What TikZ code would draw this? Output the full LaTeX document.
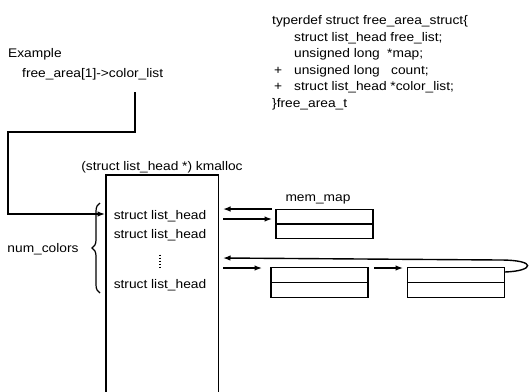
\documentclass[tikz,border=0pt]{standalone}
\usepackage{fontspec}
\setmainfont[FakeStretch=1.1]{Liberation Sans}
\usetikzlibrary{arrows.meta,decorations.pathreplacing}

\begin{document}
\begin{tikzpicture}[x=1pt,y=-1pt,
  font=\fontsize{12.5}{15}\selectfont,
  line/.style={line width=1.4pt},
  arr/.style={line, -{Latex[length=7.5pt,width=5.5pt]}},
  txt/.style={inner sep=0pt, anchor=base west},
  ctxt/.style={inner sep=0pt, anchor=base},
  cell/.style={draw, line width=1.3pt, minimum width=97pt, minimum height=29.5pt, inner sep=0pt},
]
\useasboundingbox (0,0) rectangle (529,391);

% struct definition
\node[txt] (d1) at (272,24.5) {typerdef struct free\_area\_struct\{};
\node[txt] (d2) at (294,41) {struct list\_head free\_list;};
\node[txt] (d3) at (294,57.5) {unsigned long};
\node[txt] (d3b) at (387,57.5) {*map;};
\node[txt] (p4) at (274,74) {+};
\node[txt] (d4) at (294,74) {unsigned long};
\node[txt] (d4b) at (391,74) {count;};
\node[txt] (p5) at (274,90.5) {+};
\node[txt] (d5) at (294,90.5) {struct list\_head *color\_list;};
\node[txt] (d6) at (272,107) {\}free\_area\_t};

% example
\node[txt] (ex) at (8,57.5) {Example};
\node[txt] (ex2) at (22,77.5) {free\_area[1]->color\_list};

% kmalloc'ed array
\node[ctxt] (kl) at (162,170) {(struct list\_head *) kmalloc};
\node[minimum width=112pt, minimum height=220pt, inner sep=0pt] (kb) at (162,285) {};
\draw[line] (kb.south west) -- (kb.north west) -- (kb.north east) -- (kb.south east);
\node[ctxt] (lh1) at (160,219) {struct list\_head};
\node[ctxt] (lh2) at (160,238.5) {struct list\_head};
\coordinate (vt) at (160,254.5);
\coordinate (vb) at (160,267);
\draw[line width=1.3pt, dash pattern=on 1.3pt off 1.8pt] (vt) -- (vb);
\node[ctxt] (lh3) at (160,288) {struct list\_head};

% brace and count
\draw[line width=1.2pt, decorate, decoration={brace, amplitude=8pt}] (100,293) -- (100,203);
\node[ctxt] (nc) at (43,252) {num\_colors};

% pointer into the array
\coordinate (c0) at (135,92);
\coordinate (c1) at (8,132);
\coordinate (kin) at (105,214);
\draw[arr] (c0) |- (c1) |- (kin);

% mem_map cell
\node[ctxt] (mml) at (318,201) {mem\_map};
\node[cell] (mm) at (324.5,224) {};
\draw[line width=1.3pt] (mm.west) -- (mm.east);

% list cells
\node[cell] (b2) at (319.5,282.5) {};
\draw[line width=1.3pt] (b2.west) -- (b2.east);
\node[cell] (b3) at (456,282.5) {};
\draw[line width=1.3pt] (b3.west) -- (b3.east);

% links
\coordinate (a1) at (223,209);
\coordinate (a2) at (223,219);
\coordinate (a3) at (223,258);
\coordinate (a4) at (223,268);
\coordinate (m1) at (272,209);
\coordinate (m2) at (272,219);
\coordinate (n2) at (262,268);
\coordinate (o2) at (374,268);
\coordinate (o3) at (403,268);
\coordinate (t3) at (505,272);
\coordinate (t4) at (500,260);
\draw[arr] (m1) -- (a1);
\draw[arr] (a2) -- (m2);
\draw[arr] (a4) -- (n2);
\draw[arr] (o2) -- (o3);
\draw[arr] (t3) .. controls (534,271) and (538,260) .. (t4) -- (a3);
\end{tikzpicture}
\end{document}
